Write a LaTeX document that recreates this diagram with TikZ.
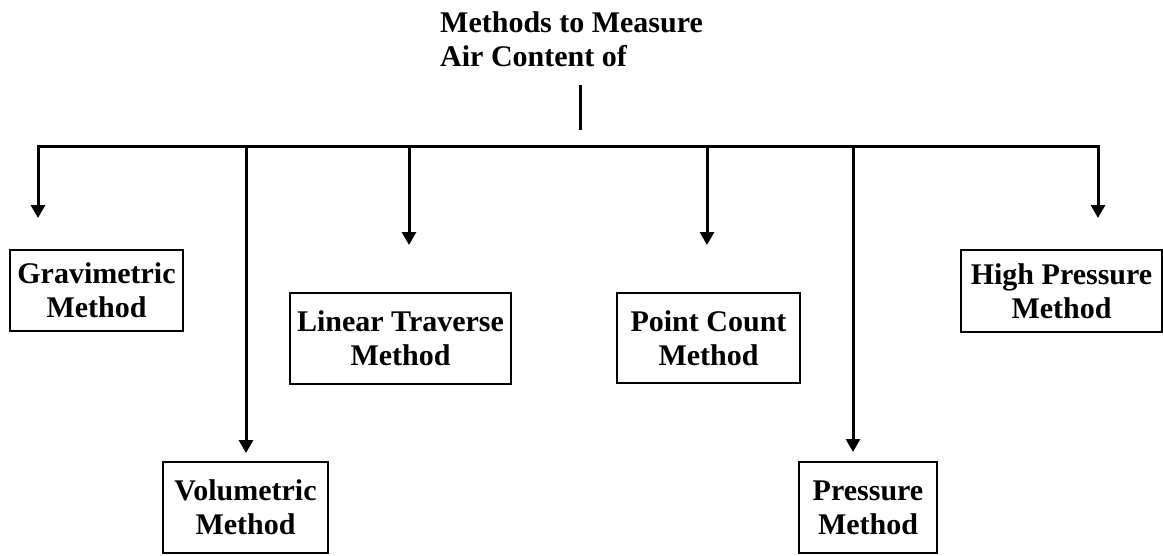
\documentclass[tikz,border=0pt]{standalone}
\usepackage{fontspec}
\setmainfont{Liberation Serif}
\usetikzlibrary{arrows.meta}
\begin{document}
\begin{tikzpicture}[x=1pt,y=-1pt,
  lbl/.style={font=\bfseries\fontsize{30}{34}\selectfont},
  box/.style={lbl, draw, line width=2.5pt, align=center, inner sep=0pt},
  conn/.style={line width=3pt},
  arr/.style={line width=3pt, -{Triangle[width=14pt,length=13pt]}}]
\useasboundingbox (0,0) rectangle (1163,555);
% title
\node[lbl, align=left, anchor=north west, inner sep=0pt] (title) at (440,11) {Methods to Measure\\Air Content of};
\coordinate (s1) at (580,85);
\coordinate (s2) at (580,130);
\draw[conn] (s1) -- (s2);
% boxes
\node[box, minimum width=173pt, minimum height=81pt] (grav) at (96.5,290.5) {Gravimetric\\Method};
\node[box, minimum width=165pt, minimum height=91pt] (vol) at (245.5,507.5) {Volumetric\\Method};
\node[box, minimum width=221pt, minimum height=91pt] (lin) at (400.5,338.5) {Linear Traverse\\Method};
\node[box, minimum width=183pt, minimum height=90pt] (pc) at (708.5,338) {Point Count\\Method};
\node[box, minimum width=138pt, minimum height=91pt] (pr) at (868,507.5) {Pressure\\Method};
\node[box, minimum width=201pt, minimum height=82pt] (hp) at (1061.5,291) {High Pressure\\Method};
% bus
\coordinate (bl) at (246,146);
\coordinate (br) at (853,146);
\coordinate (b3) at (409,146);
\coordinate (b4) at (707,146);
\coordinate (tg) at (38,218);
\coordinate (tv) at (246,453);
\coordinate (tl) at (409,245);
\coordinate (tp) at (707,245);
\coordinate (tr) at (853,452);
\coordinate (th) at (1098,218);
\draw[conn] (bl) -- (br);
\draw[arr] (bl) -| (tg);
\draw[arr] (br) -| (th);
\draw[arr] (bl) -- (tv);
\draw[arr] (br) -- (tr);
\draw[arr] (b3) -- (tl);
\draw[arr] (b4) -- (tp);
\end{tikzpicture}
\end{document}
